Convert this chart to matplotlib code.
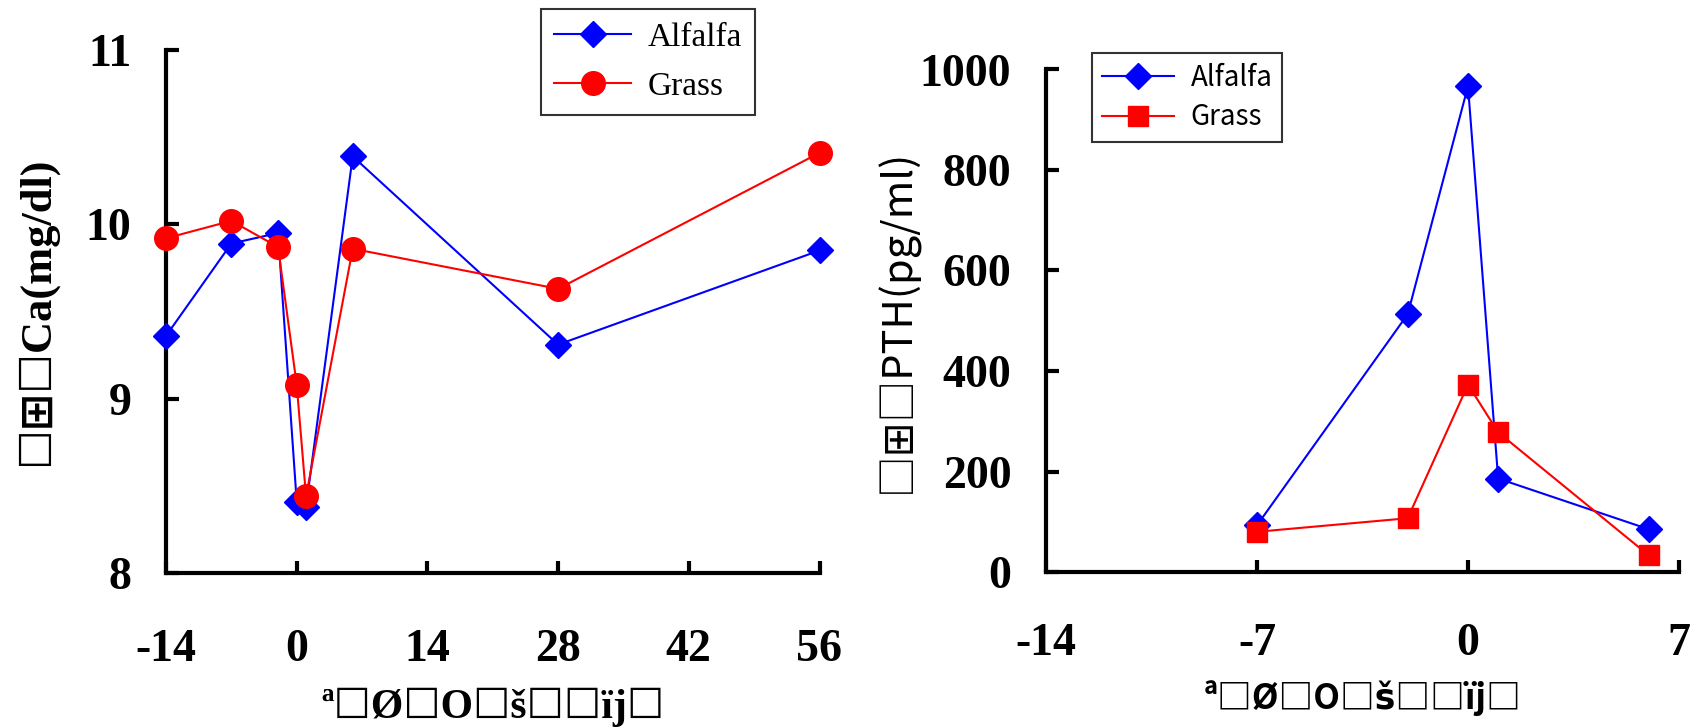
import matplotlib

matplotlib.use("Agg")

import matplotlib.pyplot as plt

plt.rcParams["axes.unicode_minus"] = False

# serum Ca around calving (left panel)
ca_days = [-14, -7, -2, 0, 1, 6, 28, 56]
ca_alfalfa = [9.36, 9.89, 9.95, 8.41, 8.38, 10.39, 9.31, 9.85]
ca_grass = [9.92, 10.02, 9.87, 9.08, 8.44, 9.86, 9.63, 10.41]
ca_xticks = [-14, 0, 14, 28, 42, 56]
ca_yticks = [8, 9, 10, 11]

# serum PTH around calving (right panel)
pth_days = [-7, -2, 0, 1, 6]
pth_alfalfa = [93, 513, 967, 186, 85]
pth_grass = [80, 107, 373, 278, 33]
pth_xticks = [-14, -7, 0, 7]
pth_yticks = [0, 200, 400, 600, 800, 1000]

series_names = ["Alfalfa", "Grass"]

ca_ylabel = "☐⊞☐Ca(mg/dl)"
pth_ylabel = "□⊞□PTH(pg/ml)"
xlabel_left = "ª☐Ø☐O☐š☐☐ïj☐"
xlabel_right = "ª□Ø□O□š□□ïj□"

SERIF = ["Liberation Serif", "DejaVu Sans"]
SANS = ["Noto Sans CJK JP", "DejaVu Sans"]
BLUE = "#0000ff"
RED = "#ff0000"

W, H = 1702, 728
fig = plt.figure(figsize=(W / 100, H / 100), dpi=100)

ax1 = fig.add_axes([166 / W, (H - 573) / H, (819.5 - 166) / W, (573 - 50) / H])
ax2 = fig.add_axes([1046 / W, (H - 572) / H, (1679 - 1046) / W, (572 - 69.5) / H])


def style_axes(ax, xpad, ypad):
    for side in ["top", "right"]:
        ax.spines[side].set_visible(False)
    for side in ["left", "bottom"]:
        ax.spines[side].set_linewidth(3)
    ax.tick_params(direction="in", length=9, width=3)
    ax.tick_params(axis="x", pad=xpad)
    ax.tick_params(axis="y", pad=ypad)
    for lab in ax.get_xticklabels() + ax.get_yticklabels():
        lab.set_family(SERIF)
        lab.set_weight("bold")
        lab.set_fontsize(33)


# left panel
ax1.plot(ca_days, ca_alfalfa, color=BLUE, lw=1.5, marker="D", ms=13,
         label=series_names[0], clip_on=False, zorder=3)
ax1.plot(ca_days, ca_grass, color=RED, lw=1.5, marker="o", ms=17,
         label=series_names[1], clip_on=False, zorder=4)
ax1.set_xlim(-14, 56)
ax1.set_ylim(8, 11)
ax1.set_xticks(ca_xticks)
ax1.set_yticks(ca_yticks)
style_axes(ax1, 40, 25)

ax1.set_ylabel(ca_ylabel, family=SERIF, weight="bold", fontsize=32)
ax1.yaxis.set_label_coords(-0.198, 0.5)
ax1.yaxis.label.set_va("center")
ax1.set_xlabel(xlabel_left, family=SERIF, weight="bold", fontsize=30)
ax1.xaxis.set_label_coords(0.5, -0.256)
ax1.xaxis.label.set_va("center")

leg1 = ax1.legend(loc="upper left", bbox_to_anchor=(0.574, 1.078),
                  prop={"family": SERIF, "size": 24}, frameon=True,
                  fancybox=False, edgecolor="black", handlelength=2.3,
                  borderpad=0.4, labelspacing=0.55, handletextpad=0.5,
                  borderaxespad=0)
leg1.get_frame().set_linewidth(1.5)

# right panel
ax2.plot(pth_days, pth_alfalfa, color=BLUE, lw=1.5, marker="D", ms=13,
         label=series_names[0], clip_on=False, zorder=3)
ax2.plot(pth_days, pth_grass, color=RED, lw=1.5, marker="s", ms=15,
         label=series_names[1], clip_on=False, zorder=4)
ax2.set_xlim(-14, 7)
ax2.set_ylim(0, 1000)
ax2.set_xticks(pth_xticks)
ax2.set_yticks(pth_yticks)
style_axes(ax2, 37, 25)

ax2.set_ylabel(pth_ylabel, family=SANS, fontsize=30)
ax2.yaxis.set_label_coords(-0.235, 0.5)
ax2.yaxis.label.set_va("center")
ax2.set_xlabel(xlabel_right, family=SANS, weight="bold", fontsize=25)
ax2.xaxis.set_label_coords(0.5, -0.251)
ax2.xaxis.label.set_va("center")

leg2 = ax2.legend(loc="upper left", bbox_to_anchor=(0.073, 1.033),
                  prop={"family": SANS, "size": 20}, frameon=True,
                  fancybox=False, edgecolor="black", handlelength=2.6,
                  borderpad=0.35, labelspacing=0.35, handletextpad=0.6,
                  borderaxespad=0)
leg2.get_frame().set_linewidth(1.5)

fig.savefig("out.png", dpi=100)
